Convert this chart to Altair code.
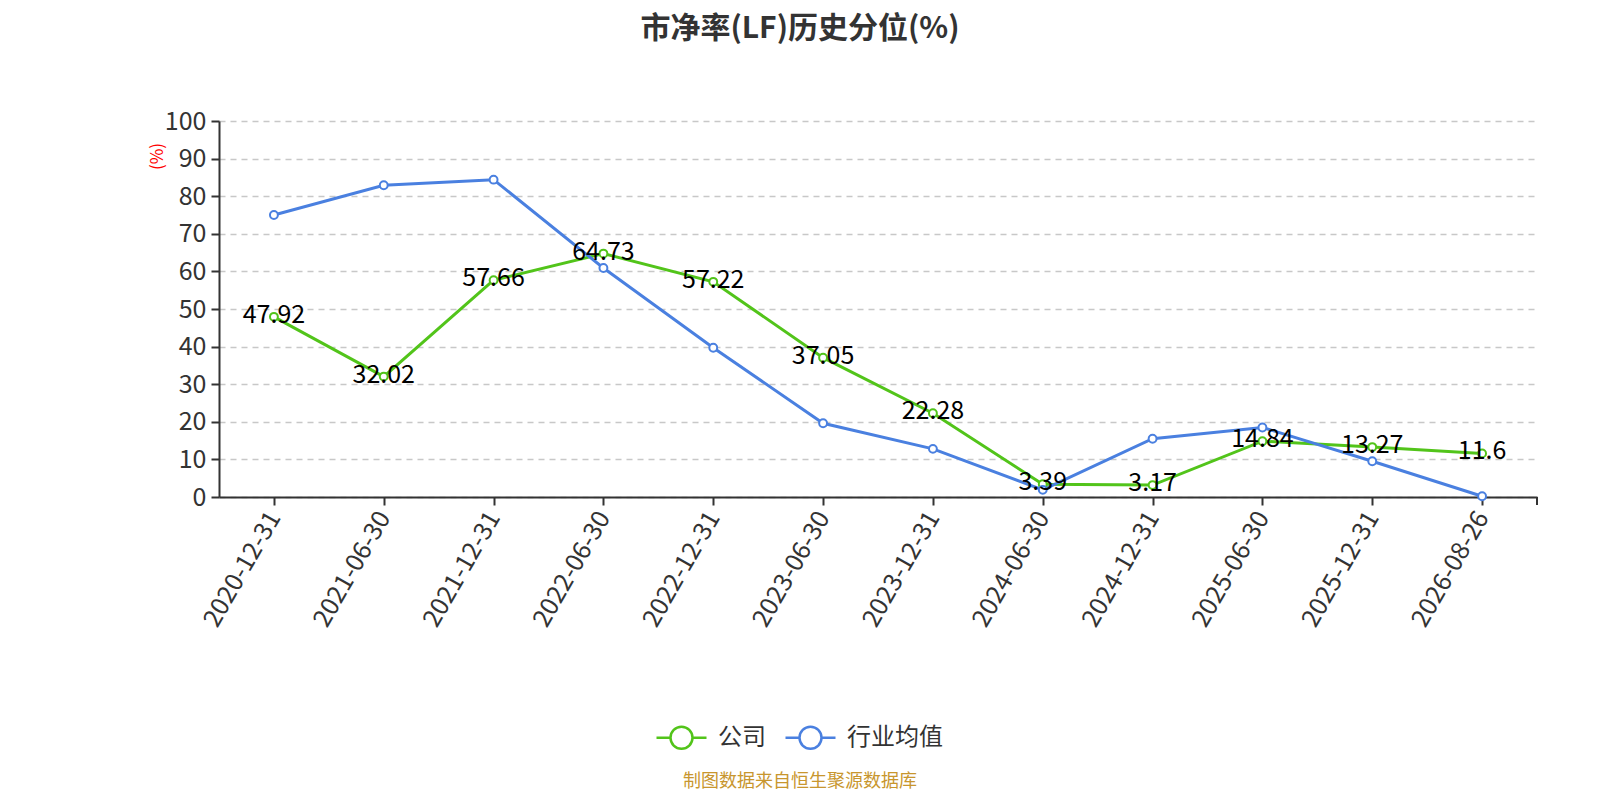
import altair as alt
import pandas as pd

dates = ["2020-12-31", "2021-06-30", "2021-12-31", "2022-06-30", "2022-12-31", "2023-06-30",
         "2023-12-31", "2024-06-30", "2024-12-31", "2025-06-30", "2025-12-31", "2026-08-26"]
company = [47.92, 32.02, 57.66, 64.73, 57.22, 37.05, 22.28, 3.39, 3.17, 14.84, 13.27, 11.6]
industry = [75.0, 82.9, 84.4, 60.9, 39.7, 19.6, 12.8, 1.9, 15.5, 18.5, 9.5, 0.2]
y_ticks = [0, 10, 20, 30, 40, 50, 60, 70, 80, 90, 100]
series_names = ["公司", "行业均值"]
colors = ["#52C41A", "#4A80E0"]

rows = []
for d, c, i in zip(dates, company, industry):
    rows.append({"date": d, "series": series_names[0], "value": c})
    rows.append({"date": d, "series": series_names[1], "value": i})
df = pd.DataFrame(rows)
df["order"] = df["series"].map({series_names[0]: 0, series_names[1]: 1})

W, H = 1318, 376
FONT = "Noto Sans CJK SC"
symbol_path = "M-1,0L-0.44,0M0.44,0L1,0M-0.44,0A0.44,0.44,0,1,1,0.44,0A0.44,0.44,0,1,1,-0.44,0Z"

x_axis = alt.Axis(title=None, labelAngle=-60, labelAlign="right", labelBaseline="middle",
                  labelFontSize=25, labelColor="#333", labelFont=FONT, labelPadding=8,
                  labelOverlap=False, domainColor="#333", domainWidth=2, tickColor="#333",
                  tickWidth=2, tickSize=8, bandPosition=0, grid=False)
y_axis = alt.Axis(title="(%)", titleColor="red", titleFontSize=17, titleFont=FONT,
                  titleFontWeight="normal", titleAngle=-90, titleX=-62, titleY=35,
                  titleAlign="center", titleBaseline="middle",
                  values=y_ticks, tickCount=len(y_ticks), labelOverlap=False, labelFontSize=25,
                  labelColor="#333", labelFont=FONT, labelPadding=5, domainColor="#333",
                  domainWidth=2, tickColor="#333", tickWidth=2, tickSize=8, gridDash=[6, 5],
                  gridColor="#c8c8c8", gridWidth=1.5, grid=True)

x_enc = alt.X("date:N", sort=dates, scale=alt.Scale(paddingInner=0, paddingOuter=0), axis=x_axis)
y_enc = alt.Y("value:Q", scale=alt.Scale(domain=[0, 100], nice=False), axis=y_axis)

color_scale = alt.Scale(domain=series_names, range=colors)

lines = alt.Chart(df).mark_line(strokeWidth=3).encode(
    x=x_enc, y=y_enc,
    color=alt.Color("series:N", scale=color_scale, sort=series_names,
                    legend=alt.Legend(title=None, orient="none", direction="horizontal",
                                      legendX=436, legendY=590, symbolType=symbol_path,
                                      symbolSize=2500, symbolStrokeWidth=2.5,
                                      labelFontSize=24, labelColor="#333", labelFont=FONT,
                                      labelOffset=10, columnPadding=14)),
    detail="series:N",
    order="order:Q",
)

points = alt.Chart(df).mark_point(filled=True, fill="white", size=62, strokeWidth=2, opacity=1).encode(
    x=alt.X("date:N", sort=dates, axis=x_axis), y=alt.Y("value:Q", axis=y_axis),
    stroke=alt.Stroke("series:N", scale=color_scale, legend=None),
)

labels = alt.Chart(df[df["series"] == series_names[0]]).mark_text(
    fontSize=25, font=FONT, color="black", dy=-2, baseline="middle", align="center"
).encode(x=alt.X("date:N", sort=dates, axis=x_axis), y=alt.Y("value:Q", axis=y_axis),
         text=alt.Text("value:Q"))

# closing tick at the right end of the x axis
end_tick = alt.Chart(pd.DataFrame({"k": [0]})).mark_rule(color="#333", strokeWidth=2).encode(
    x=alt.value(W), y=alt.value(H), y2=alt.value(H + 8))

footer = alt.Chart(pd.DataFrame({"t": ["制图数据来自恒生聚源数据库"]})).mark_text(
    fontSize=18, font=FONT, color="#C8962E", align="center", baseline="middle"
).encode(x=alt.value(800 - 219), y=alt.value(782 - 121), text="t:N")

chart = alt.layer(lines, points, labels, end_tick, footer).properties(
    width=W, height=H,
    title=alt.TitleParams("市净率(LF)历史分位(%)", fontSize=30, font=FONT, fontWeight="bold",
                          color="#333", anchor="middle", dx=-78, offset=65),
    autosize=alt.AutoSizeParams(type="none"),
    padding={"left": 211, "top": 113, "right": 40, "bottom": 295},
).configure_view(stroke=None)

chart.save("out.html", embed_options={"renderer": "svg", "actions": False})
